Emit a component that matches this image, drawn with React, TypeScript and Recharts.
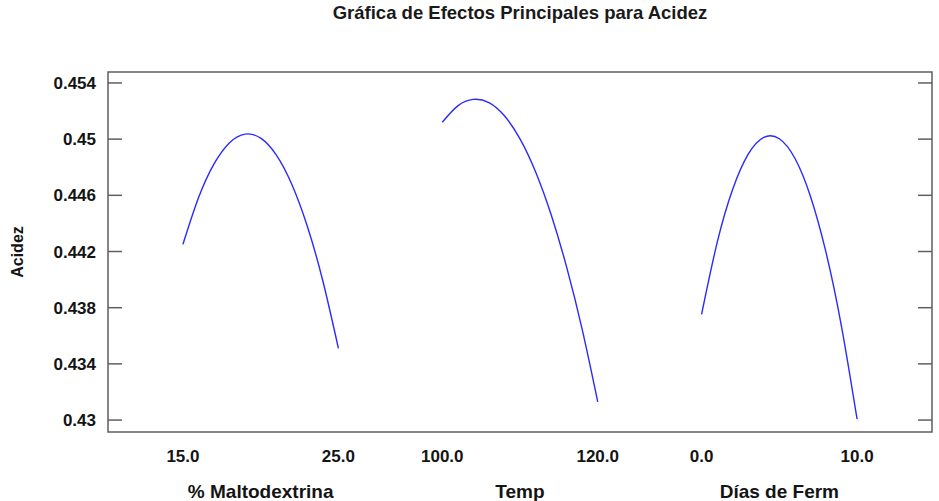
import { LineChart, Line, XAxis, YAxis, ReferenceArea } from "recharts";

// Main effects for Acidez, one curve per factor from low to high level
const factorNames = ["% Maltodextrina", "Temp", "Días de Ferm"];
const levelLabels = [
  ["15.0", "25.0"],
  ["100.0", "120.0"],
  ["0.0", "10.0"],
];
const maltodextrina = [
  0.44251, 0.44582, 0.44824, 0.44975, 0.45036, 0.45007, 0.44888, 0.44679, 0.4438, 0.4399, 0.43511,
];
const temp = [
  0.4512, 0.45237, 0.45283, 0.4526, 0.45166, 0.45002, 0.44768, 0.44463, 0.44089, 0.43645, 0.4313,
];
const diasFerm = [
  0.43753, 0.44263, 0.44643, 0.44893, 0.45013, 0.45003, 0.44864, 0.44594, 0.44195, 0.43666, 0.43007,
];
const yTicks = [0.43, 0.434, 0.438, 0.442, 0.446, 0.45, 0.454];
const yDomain: [number, number] = [0.42915, 0.45478];

const FONT = "'Liberation Sans', Arial, sans-serif";
const FRAME = "#5f5f5f";
const LINE = "#2a2aff";

// horizontal layout: each factor spans one unit, separated by a gap
const SPAN = 1;
const GAP = 0.668;
const PAD = 0.482;
const xDomain: [number, number] = [-PAD, 3 * SPAN + 2 * GAP + PAD];

const series = [maltodextrina, temp, diasFerm].map((vals, i) =>
  vals.map((v, k) => ({ x: i * (SPAN + GAP) + (k / (vals.length - 1)) * SPAN, y: v }))
);

const xTickInfo = factorNames.flatMap((name, i) => {
  const start = i * (SPAN + GAP);
  return [
    { pos: start, text: levelLabels[i][0], name: false },
    { pos: start + SPAN, text: levelLabels[i][1], name: false },
    { pos: start + SPAN / 2, text: name, name: true },
  ];
});
const xTicks = xTickInfo.map((t) => t.pos);

const XTick = (props: any) => {
  const { x, y, payload } = props;
  const info = xTickInfo.reduce((best, t) =>
    Math.abs(t.pos - payload.value) < Math.abs(best.pos - payload.value) ? t : best
  );
  return (
    <text
      x={x}
      y={info.name ? y + 66 : y + 30}
      textAnchor="middle"
      fontSize={info.name ? 19 : 17}
      fontWeight="bold"
      fontFamily={FONT}
      fill="#141414"
    >
      {info.text}
    </text>
  );
};

const fmt = (v: number) => Number(v.toFixed(3)).toString();

const YTickLeft = (props: any) => {
  const { x, y, payload } = props;
  return (
    <g>
      <line x1={x + 12} x2={x + 26} y1={y} y2={y} stroke={FRAME} strokeWidth={1.5} />
      <text
        x={x}
        y={y}
        dy="0.36em"
        textAnchor="end"
        fontSize={17}
        fontWeight="bold"
        fontFamily={FONT}
        fill="#141414"
      >
        {fmt(payload.value)}
      </text>
    </g>
  );
};

const YTickRight = (props: any) => {
  const { x, y } = props;
  return <line x1={x - 14} x2={x} y1={y} y2={y} stroke={FRAME} strokeWidth={1.5} />;
};

export default function App() {
  return (
    <div style={{ position: "absolute", left: 0, top: 0, width: 939, height: 501, background: "#fff" }}>
      <div
        style={{
          position: "absolute",
          left: 108,
          width: 824,
          top: 4,
          textAlign: "center",
          fontFamily: FONT,
          fontWeight: "bold",
          fontSize: 18.5,
          lineHeight: "18px",
          color: "#1a1a1a",
        }}
      >
        Gráfica de Efectos Principales para Acidez
      </div>
      <LineChart width={939} height={501} margin={{ top: 72, right: 0, bottom: 0, left: 0 }}>
        <XAxis
          dataKey="x"
          type="number"
          domain={xDomain}
          allowDataOverflow
          ticks={xTicks}
          interval={0}
          tick={<XTick />}
          tickSize={0}
          tickMargin={0}
          tickLine={false}
          axisLine={false}
          height={69}
        />
        <YAxis
          yAxisId="l"
          type="number"
          domain={yDomain}
          allowDataOverflow
          ticks={yTicks}
          interval={0}
          tick={<YTickLeft />}
          tickSize={0}
          tickMargin={12}
          tickLine={false}
          axisLine={false}
          width={108}
          label={{
            value: "Acidez",
            angle: -90,
            position: "insideLeft",
            offset: 17,
            style: { textAnchor: "middle", fontFamily: FONT, fontWeight: "bold", fontSize: 16, fill: "#141414" },
          }}
        />
        <YAxis
          yAxisId="r"
          orientation="right"
          type="number"
          domain={yDomain}
          allowDataOverflow
          ticks={yTicks}
          interval={0}
          tick={<YTickRight />}
          tickSize={0}
          tickMargin={0}
          tickLine={false}
          axisLine={false}
          width={7}
        />
        <ReferenceArea
          yAxisId="l"
          x1={xDomain[0]}
          x2={xDomain[1]}
          y1={yDomain[0]}
          y2={yDomain[1]}
          fill="none"
          stroke={FRAME}
          strokeWidth={1.5}
          ifOverflow="visible"
        />
        {series.map((data, i) => (
          <Line
            key={factorNames[i]}
            yAxisId="l"
            data={data}
            dataKey="y"
            type="natural"
            stroke={LINE}
            strokeWidth={1.4}
            dot={false}
            isAnimationActive={false}
          />
        ))}
      </LineChart>
    </div>
  );
}
